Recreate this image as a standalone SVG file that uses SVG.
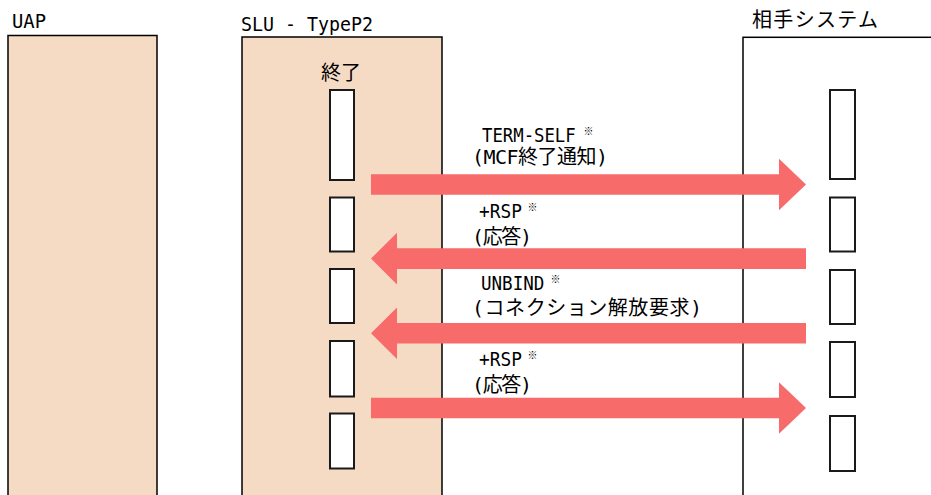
<svg xmlns="http://www.w3.org/2000/svg" xmlns:xlink="http://www.w3.org/1999/xlink" width="931" height="495" viewBox="0 0 931 495">
<style>
.lane{stroke:#000;stroke-width:1.5}
.peach{fill:#F5DBC4}
.white{fill:#fff}
.act{fill:#fff;stroke:#1a1a1a;stroke-width:2}
.arrow{fill:#F76B6A}
.lat{font-family:"DejaVu Sans Mono","Noto Sans CJK JP",monospace;font-size:20px;fill:#000}
.jp{font-family:"DejaVu Sans Mono","Noto Sans CJK JP",sans-serif;font-size:20px;fill:#000}
.note{font-family:"Noto Sans CJK JP",sans-serif;font-size:10px;fill:#000}
</style>
<defs>
<polygon id="ar" points="371,-10.3 779,-10.3 779,-25.8 806,0 779,25.8 779,10.3 371,10.3"/>
<polygon id="al" points="806,-10.3 397,-10.3 397,-25.8 371,0 397,25.8 397,10.3 806,10.3"/>
</defs>
<rect width="931" height="495" fill="#fff"/>

<g id="uap">
<rect class="lane peach" x="8" y="35.5" width="149" height="470"/>
<text class="lat" x="12" y="27.5" font-size="17.5" textLength="34" lengthAdjust="spacingAndGlyphs">UAP</text>
</g>

<g id="slu">
<rect class="lane peach" x="242" y="37" width="200" height="470"/>
<text class="lat" x="241" y="31" font-size="19" textLength="132" lengthAdjust="spacingAndGlyphs">SLU - TypeP2</text>
<text class="jp" x="321" y="80" textLength="40" lengthAdjust="spacing">終了</text>
<rect class="act" x="330" y="90" width="24" height="90"/>
<rect class="act" x="330" y="197.5" width="24" height="54"/>
<rect class="act" x="330" y="269" width="24" height="54"/>
<rect class="act" x="330" y="341" width="24" height="55.5"/>
<rect class="act" x="330" y="413.5" width="24" height="55"/>
</g>

<g id="partner">
<rect class="lane white" x="743" y="37.3" width="200" height="470"/>
<text class="jp" x="752" y="27" font-size="17" textLength="126" lengthAdjust="spacing">相手システム</text>
<rect class="act" x="830" y="90" width="25" height="89"/>
<rect class="act" x="830" y="197.5" width="25" height="54"/>
<rect class="act" x="830" y="270" width="25" height="54"/>
<rect class="act" x="830" y="342" width="25" height="55"/>
<rect class="act" x="830" y="416" width="25" height="55"/>
</g>

<g id="connectors">
<use xlink:href="#ar" href="#ar" class="arrow" y="184.5"/>
<use xlink:href="#al" href="#al" class="arrow" y="258.6"/>
<use xlink:href="#al" href="#al" class="arrow" y="333.3"/>
<use xlink:href="#ar" href="#ar" class="arrow" y="408"/>
</g>

<g id="labels">
<text class="lat" font-size="20.5" transform="translate(482,142.3) scale(0.865,1)">TERM-SELF</text>
<text class="note" x="583.5" y="135">※</text>
<text class="jp" x="472" y="164" textLength="136" lengthAdjust="spacing">(MCF終了通知)</text>

<text class="lat" font-size="20.5" transform="translate(479,218.3) scale(0.89,1)">+RSP</text>
<text class="note" x="527.5" y="211">※</text>
<text class="jp" x="472" y="244" textLength="60" lengthAdjust="spacing">(応答)</text>

<text class="lat" font-size="20.5" transform="translate(481,290) scale(0.878,1)">UNBIND</text>
<text class="note" x="550.5" y="283">※</text>
<text class="jp" x="472" y="314.5" textLength="230" lengthAdjust="spacing">(コネクション解放要求)</text>

<text class="lat" font-size="20.5" transform="translate(479,366) scale(0.89,1)">+RSP</text>
<text class="note" x="527.5" y="358.5">※</text>
<text class="jp" x="472" y="391.5" textLength="60" lengthAdjust="spacing">(応答)</text>
</g>
</svg>
